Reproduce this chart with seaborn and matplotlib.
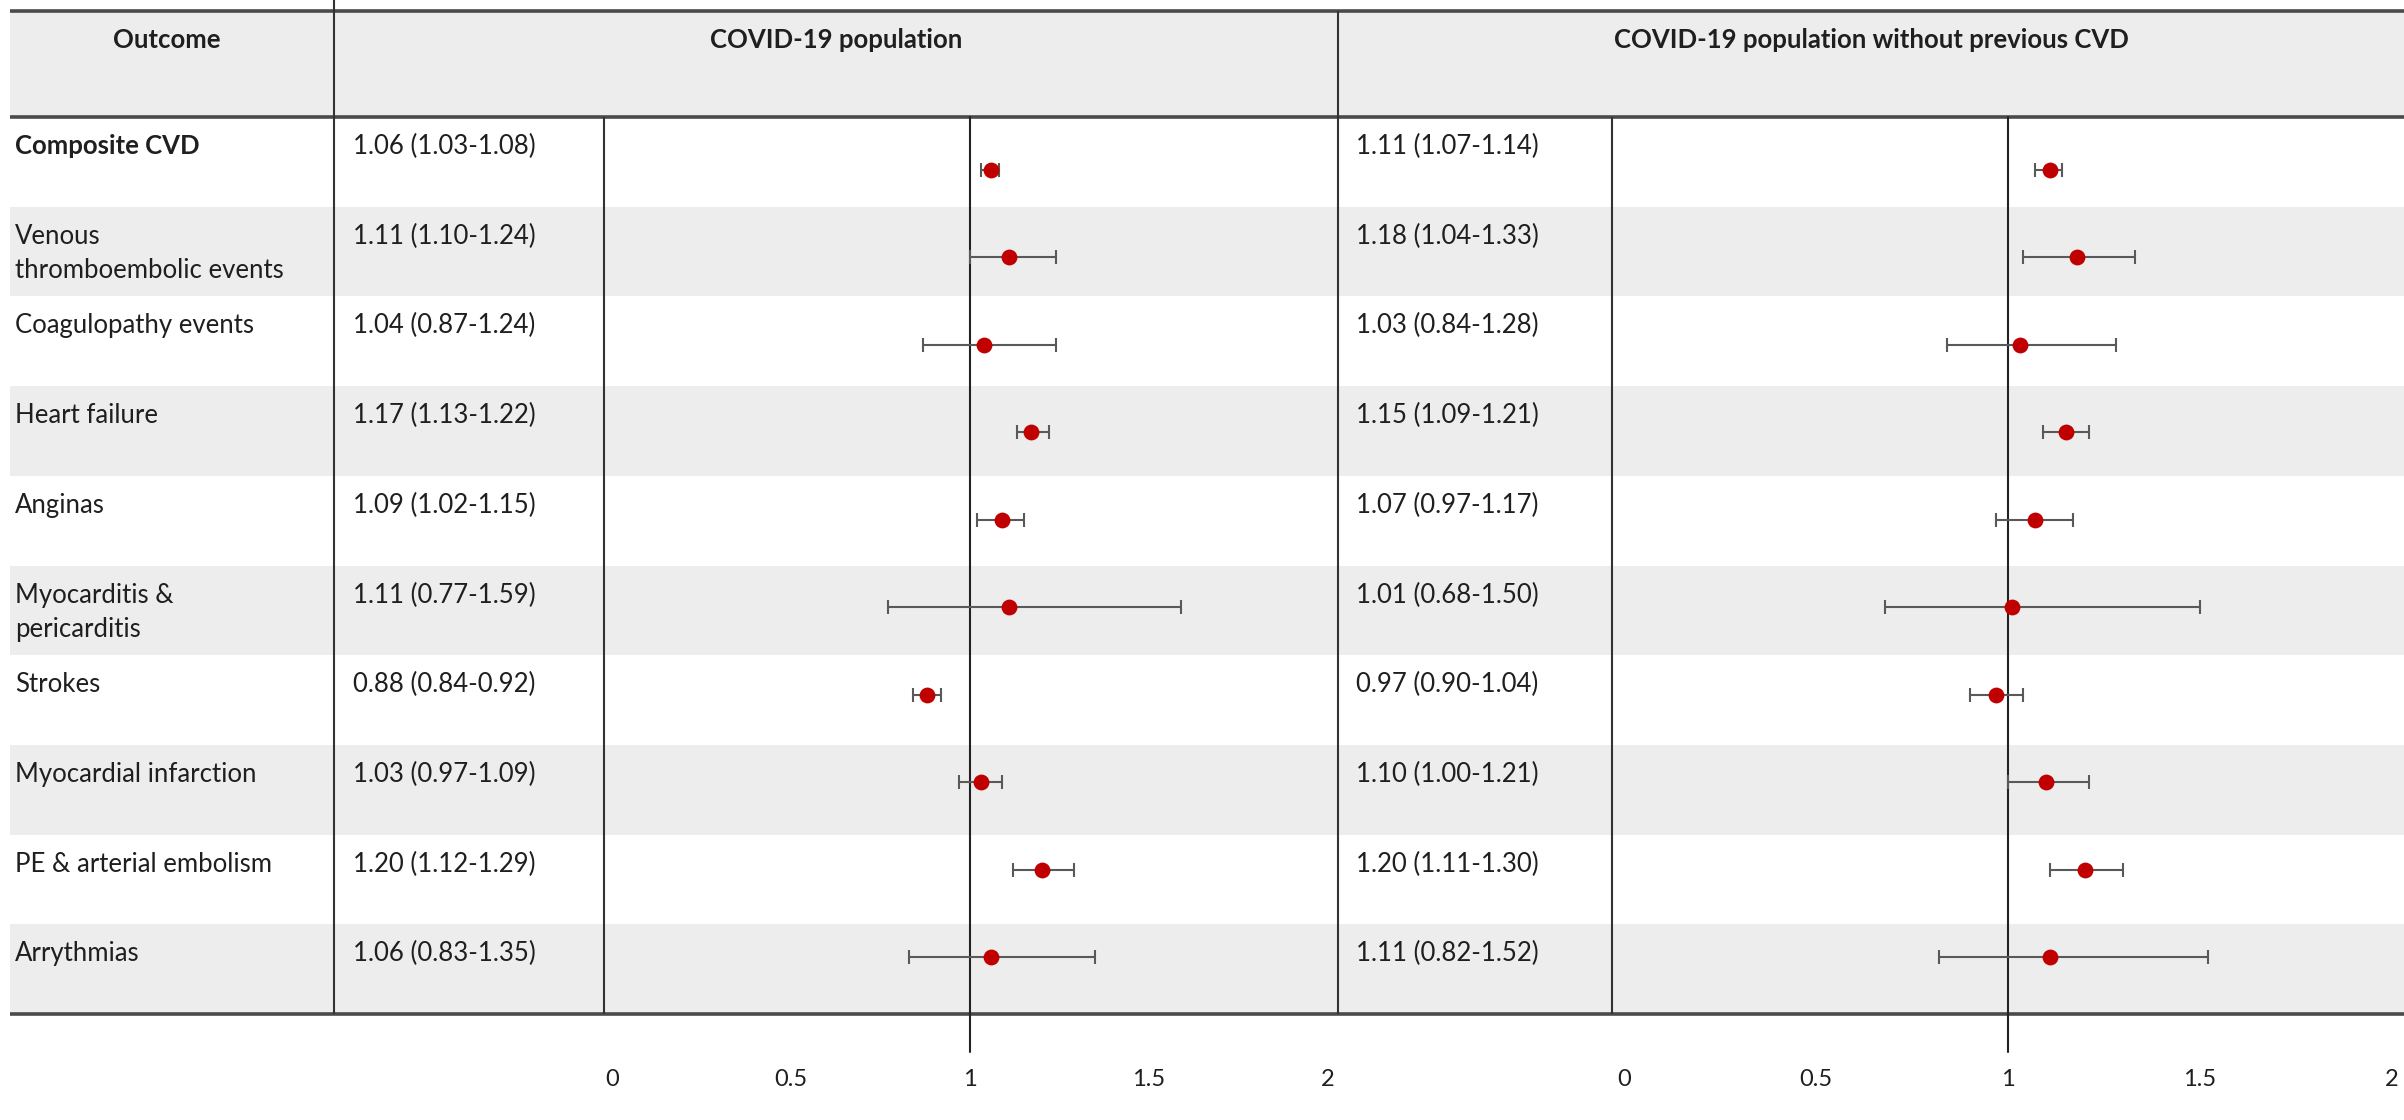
import matplotlib
matplotlib.use("Agg")
import matplotlib.pyplot as plt
from matplotlib.patches import Rectangle
import seaborn as sns
import pandas as pd
import numpy as np

# ---------------- data ----------------
outcomes = ["Composite CVD", "Venous\nthromboembolic events", "Coagulopathy events",
            "Heart failure", "Anginas", "Myocarditis &\npericarditis", "Strokes",
            "Myocardial infarction", "PE & arterial embolism", "Arrythmias"]

hr_all = [1.06, 1.11, 1.04, 1.17, 1.09, 1.11, 0.88, 1.03, 1.20, 1.06]
lo_all = [1.03, 1.00, 0.87, 1.13, 1.02, 0.77, 0.84, 0.97, 1.12, 0.83]
hi_all = [1.08, 1.24, 1.24, 1.22, 1.15, 1.59, 0.92, 1.09, 1.29, 1.35]
ci_text_all = ["1.06 (1.03-1.08)", "1.11 (1.10-1.24)", "1.04 (0.87-1.24)", "1.17 (1.13-1.22)",
               "1.09 (1.02-1.15)", "1.11 (0.77-1.59)", "0.88 (0.84-0.92)", "1.03 (0.97-1.09)",
               "1.20 (1.12-1.29)", "1.06 (0.83-1.35)"]

hr_nocvd = [1.11, 1.18, 1.03, 1.15, 1.07, 1.01, 0.97, 1.10, 1.20, 1.11]
lo_nocvd = [1.07, 1.04, 0.84, 1.09, 0.97, 0.68, 0.90, 1.00, 1.11, 0.82]
hi_nocvd = [1.14, 1.33, 1.28, 1.21, 1.17, 1.50, 1.04, 1.21, 1.30, 1.52]
ci_text_nocvd = ["1.11 (1.07-1.14)", "1.18 (1.04-1.33)", "1.03 (0.84-1.28)", "1.15 (1.09-1.21)",
                 "1.07 (0.97-1.17)", "1.01 (0.68-1.50)", "0.97 (0.90-1.04)", "1.10 (1.00-1.21)",
                 "1.20 (1.11-1.30)", "1.11 (0.82-1.52)"]

header_outcome = "Outcome"
panel_titles = ["COVID-19 population", "COVID-19 population without previous CVD"]
x_ticks = [0, 0.5, 1, 1.5, 2]
x_tick_labels = ["0", "0.5", "1", "1.5", "2"]

# ---------------- style ----------------
sns.set_theme(style="white")
plt.rcParams["font.family"] = ["Lato", "DejaVu Sans"]
TXT = "#1f1f1f"
GREY = "#EDEDED"
LINE = "#4a4a4a"
FS = 18.5

W, H = 2404, 1120
fig = plt.figure(figsize=(W / 100, H / 100), dpi=100)
fig.patch.set_facecolor("white")

bg = fig.add_axes([0, 0, 1, 1])
bg.set_xlim(0, W)
bg.set_ylim(H, 0)
bg.axis("off")

head_top, head_bot, tab_bot = 11, 117, 1014
n = len(outcomes)
row_h = (tab_bot - head_bot) / n
left_edge = 10

# bands
bg.add_patch(Rectangle((left_edge, head_top), W - left_edge, head_bot - head_top,
                       facecolor=GREY, edgecolor="none", zorder=0))
for i in range(n):
    if i % 2 == 1:
        bg.add_patch(Rectangle((left_edge, head_bot + i * row_h), W - left_edge, row_h,
                               facecolor=GREY, edgecolor="none", zorder=0))

# horizontal rules
for yy in (head_top, head_bot, tab_bot):
    bg.plot([left_edge, W], [yy, yy], color=LINE, lw=2.6, solid_capstyle="butt", zorder=2)

# vertical rules
vlines = [(334, 0, tab_bot), (1338, head_top, tab_bot), (604, head_bot, tab_bot), (1612, head_bot, tab_bot)]
for x, y0, y1 in vlines:
    bg.plot([x, x], [y0, y1], color="#333333", lw=1.5, solid_capstyle="butt", zorder=2)

# header texts
bg.text(167, 40, header_outcome, ha="center", va="center", fontsize=FS, fontweight="bold", color=TXT)
bg.text(836, 40, panel_titles[0], ha="center", va="center", fontsize=FS, fontweight="bold", color=TXT)
bg.text(1871, 40, panel_titles[1], ha="center", va="center", fontsize=FS, fontweight="bold", color=TXT)

# row texts
for i in range(n):
    top = head_bot + i * row_h + 17
    bg.text(15, top, outcomes[i], ha="left", va="top", fontsize=FS, color=TXT,
            fontweight="bold" if i == 0 else "normal", linespacing=1.45)
    bg.text(353, top, ci_text_all[i], ha="left", va="top", fontsize=FS, color=TXT)
    bg.text(1356, top, ci_text_nocvd[i], ha="left", va="top", fontsize=FS, color=TXT)

# ---------------- forest panels ----------------
def forest(x0, x2, hr, lo, hi):
    top, bot = 126.3, 1000.7
    ax = fig.add_axes([x0 / W, 1 - bot / H, (x2 - x0) / W, (bot - top) / H])
    ax.patch.set_alpha(0)
    df = pd.DataFrame({"hr": hr, "lo": lo, "hi": hi, "row": np.arange(len(hr))})
    ax.errorbar(df["hr"], df["row"], xerr=[df["hr"] - df["lo"], df["hi"] - df["hr"]],
                fmt="none", ecolor="#595959", elinewidth=1.5, capsize=5, capthick=1.5, zorder=2)
    sns.scatterplot(data=df, x="hr", y="row", ax=ax, color="#C00000", s=130,
                    edgecolor="#C00000", linewidth=0, zorder=3, legend=False)
    ymin = (bot - 1052) / (bot - top)
    ymax = (bot - head_bot) / (bot - top)
    ax.axvline(1, ymin=ymin, ymax=ymax, clip_on=False, color="#222222", lw=1.5, zorder=1)
    ax.set_xlim(0, 2)
    ax.set_ylim(len(hr) - 0.5, -0.5)
    ax.set_xticks(x_ticks)
    ax.set_xticklabels(x_tick_labels, fontsize=17, color=TXT)
    ax.tick_params(axis="x", length=0, pad=49)
    ax.set_yticks([])
    ax.set_xlabel("")
    ax.set_ylabel("")
    for s in ax.spines.values():
        s.set_visible(False)
    return ax

forest(612, 1328, hr_all, lo_all, hi_all)
forest(1624, 2392, hr_nocvd, lo_nocvd, hi_nocvd)

fig.savefig("out.png", dpi=100, facecolor="white")
